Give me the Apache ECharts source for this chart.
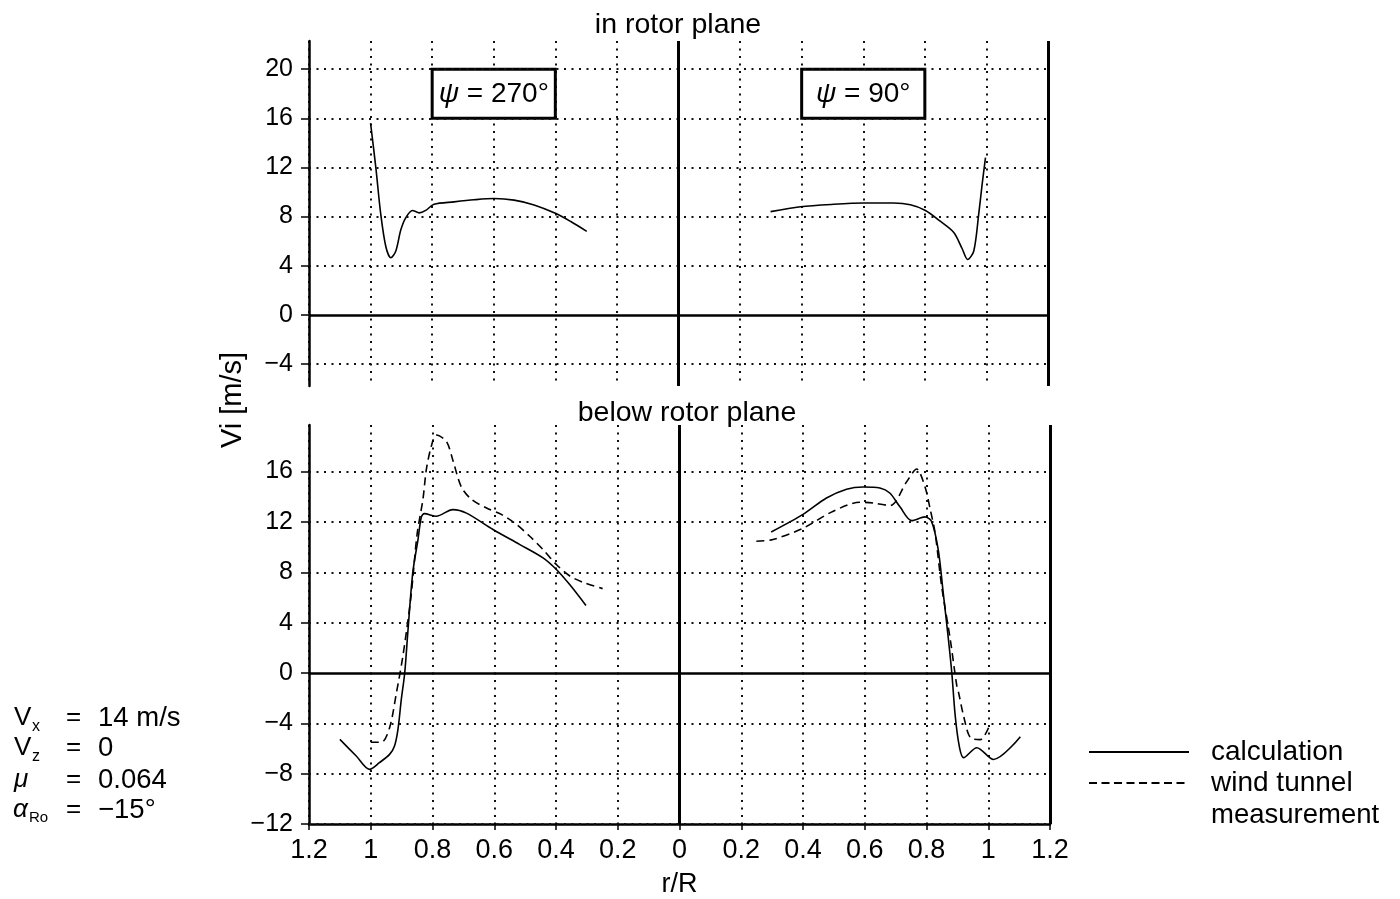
<!DOCTYPE html>
<html><head><meta charset="utf-8">
<script src="https://cdn.jsdelivr.net/npm/echarts@6/dist/echarts.min.js"></script>
<style>html,body{margin:0;padding:0;background:#fff}#c{width:1400px;height:899px}</style>
</head><body><div id="c"></div>
<script>
// ---- tick labels ----
const topYTicks = [-4, 0, 4, 8, 12, 16, 20];
const bottomYTicks = [-12, -8, -4, 0, 4, 8, 12, 16];
const boxLabels = ['270', '90'];

// ---- in rotor plane, psi = 270 deg (left half), calculation ----
const rTop270 = [1.0, 0.983, 0.967, 0.95, 0.934, 0.918, 0.902, 0.886, 0.864, 0.842, 0.821, 0.794, 0.729, 0.664, 0.599, 0.534, 0.469, 0.398, 0.35, 0.298];
const vTop270 = [15.6, 12.0, 8.2, 5.5, 4.65, 5.2, 6.9, 7.9, 8.5, 8.3, 8.5, 9.0, 9.2, 9.37, 9.47, 9.34, 8.95, 8.25, 7.6, 6.8];

// ---- in rotor plane, psi = 90 deg (right half), calculation ----
const rTop90 = [0.299, 0.396, 0.504, 0.602, 0.699, 0.753, 0.802, 0.851, 0.894, 0.921, 0.939, 0.959, 0.975, 0.986, 0.997];
const vTop90 = [8.4, 8.8, 9.0, 9.1, 9.1, 8.96, 8.5, 7.6, 6.7, 5.4, 4.5, 5.2, 8.2, 10.6, 12.8];

// ---- below rotor plane, psi = 270 deg, calculation ----
const rBot270Calc = [1.10, 1.047, 1.004, 0.972, 0.939, 0.923, 0.912, 0.901, 0.89, 0.88, 0.864, 0.847, 0.836, 0.826, 0.788, 0.734, 0.69, 0.604, 0.517, 0.442, 0.398, 0.355, 0.303];
const vBot270Calc = [-5.28, -6.6, -7.66, -7.13, -6.47, -5.8, -4.5, -2.1, 0, 3.2, 7.95, 10.6, 12.4, 12.66, 12.45, 12.98, 12.7, 11.4, 10.2, 9.14, 8.2, 7.0, 5.36];

// ---- below rotor plane, psi = 270 deg, wind tunnel measurement ----
const rBot270Meas = [1.0, 0.965, 0.939, 0.917, 0.896, 0.87, 0.85, 0.831, 0.82, 0.804, 0.788, 0.755, 0.734, 0.707, 0.674, 0.625, 0.577, 0.528, 0.485, 0.442, 0.398, 0.355, 0.312, 0.249];
const vBot270Meas = [-5.5, -5.5, -4.35, -1.6, 1.33, 6.0, 11.0, 13.8, 16.15, 18.0, 18.9, 18.4, 16.9, 14.8, 13.8, 13.1, 12.6, 11.8, 10.86, 9.8, 8.6, 7.7, 7.2, 6.7];

// ---- below rotor plane, psi = 90 deg, calculation ----
const rBot90Calc = [0.297, 0.4, 0.476, 0.541, 0.595, 0.649, 0.681, 0.714, 0.752, 0.795, 0.816, 0.838, 0.854, 0.871, 0.882, 0.893, 0.906, 0.92, 0.963, 1.017, 1.104];
const vBot90Calc = [11.2, 12.6, 13.9, 14.6, 14.78, 14.7, 14.3, 13.2, 12.1, 12.4, 12.05, 9.8, 6.4, 2.66, 0, -3.4, -5.8, -6.73, -5.94, -6.87, -5.06];

// ---- below rotor plane, psi = 90 deg, wind tunnel measurement ----
const rBot90Meas = [0.249, 0.303, 0.4, 0.498, 0.584, 0.628, 0.682, 0.736, 0.768, 0.795, 0.812, 0.828, 0.849, 0.877, 0.898, 0.904, 0.92, 0.942, 0.974, 1.001];
const vBot90Meas = [10.46, 10.6, 11.5, 12.85, 13.56, 13.5, 13.3, 15.2, 16.2, 14.8, 13.0, 11.1, 6.9, 2.66, -1.0, -1.57, -3.4, -5.14, -5.3, -4.35];

const FONT = '"Liberation Sans", Arial, Helvetica, sans-serif';
const pairs = (r, v, sign) => r.map((ri, i) => [sign * ri, v[i]]);
const dotted = { type: [2, 5.5], color: '#111', width: 2 };
const solidLine = (w) => ({ type: 'solid', color: '#000', width: w });

function gridLines(ticks) {
  const d = ticks.filter(v => v !== 0).map(v => ({ yAxis: v, lineStyle: dotted }));
  d.push({ yAxis: 0, lineStyle: solidLine(2.5) });
  d.push({ xAxis: 0, lineStyle: solidLine(3) });
  d.push({ xAxis: 1.2, lineStyle: solidLine(3) });
  return { silent: true, symbol: ['none', 'none'], label: { show: false }, emphasis: { disabled: true }, animation: false, data: d };
}

const xLabelFmt = v => String(Math.abs(Math.round(v * 10) / 10));
const yLabelFmt = v => (v < 0 ? '\u2212' + Math.abs(v) : String(v));

function xAx(idx, showAxis) {
  return {
    gridIndex: idx, type: 'value', min: -1.2, max: 1.2, interval: 0.2,
    axisLine: { show: showAxis, onZero: false, lineStyle: { color: '#000', width: 2.5 } },
    axisTick: { show: showAxis, length: 6, lineStyle: { color: '#000', width: 1.5 } },
    axisLabel: { show: showAxis, formatter: xLabelFmt, fontSize: 27, margin: 13, color: '#000', fontFamily: FONT },
    splitLine: { show: true, lineStyle: dotted },
    name: showAxis ? 'r/R' : '', nameLocation: 'middle', nameGap: 47,
    nameTextStyle: { fontSize: 27, color: '#000', fontFamily: FONT }
  };
}
function yAx(idx, min, max, ticks) {
  return {
    gridIndex: idx, type: 'value', min: min, max: max,
    axisLine: { show: true, onZero: false, lineStyle: { color: '#000', width: 2.5 } },
    axisTick: { show: true, length: 8, customValues: ticks, lineStyle: { color: '#000', width: 1.5 } },
    axisLabel: { customValues: ticks, formatter: yLabelFmt, fontSize: 25, margin: 16, color: '#000', fontFamily: FONT },
    splitLine: { show: false }
  };
}

const lineBase = { type: 'line', showSymbol: false, symbol: 'none', smooth: 0.3, z: 3, animation: false };
const calcStyle = { color: '#000', width: 1.6, type: 'solid' };
const measStyle = { color: '#000', width: 1.6, type: [8, 5] };

const option = {
  animation: false,
  backgroundColor: '#fff',
  textStyle: { fontFamily: FONT, color: '#000' },
  title: [
    { text: 'in rotor plane', left: 673, top: 6, textAlign: 'center', textStyle: { fontSize: 28.5, fontWeight: 'normal', color: '#000', fontFamily: FONT } },
    { text: 'below rotor plane', left: 682, top: 394, textAlign: 'center', textStyle: { fontSize: 28.5, fontWeight: 'normal', color: '#000', fontFamily: FONT } }
  ],
  grid: [
    { left: 309, width: 739, top: 41, height: 345 },
    { left: 309, width: 741, top: 425, height: 399 }
  ],
  xAxis: [xAx(0, false), xAx(1, true)],
  yAxis: [yAx(0, -5.8, 22.3, topYTicks), yAx(1, -12, 19.7, bottomYTicks)],
  series: [
    Object.assign({}, lineBase, {
      name: 'calculation', xAxisIndex: 0, yAxisIndex: 0,
      data: pairs(rTop270, vTop270, -1), lineStyle: calcStyle,
      markLine: gridLines(topYTicks),
      markArea: {
        silent: true, animation: false,
        itemStyle: { color: '#fff', borderColor: '#000', borderWidth: 3 },
        label: {
          show: true, position: 'inside', color: '#000', fontSize: 28, fontFamily: FONT,
          formatter: p => '{i|ψ} = ' + p.name + '°',
          rich: { i: { fontStyle: 'italic', fontSize: 28, fontFamily: FONT, color: '#000' } }
        },
        data: [
          [{ name: boxLabels[0], coord: [-0.8, 20] }, { coord: [-0.4, 16] }],
          [{ name: boxLabels[1], coord: [0.4, 20] }, { coord: [0.8, 16] }]
        ]
      }
    }),
    Object.assign({}, lineBase, { name: 'calculation', xAxisIndex: 0, yAxisIndex: 0, data: pairs(rTop90, vTop90, 1), lineStyle: calcStyle }),
    Object.assign({}, lineBase, {
      name: 'calculation', xAxisIndex: 1, yAxisIndex: 1, data: pairs(rBot270Calc, vBot270Calc, -1), lineStyle: calcStyle,
      markLine: gridLines(bottomYTicks)
    }),
    Object.assign({}, lineBase, { name: 'wind tunnel measurement', xAxisIndex: 1, yAxisIndex: 1, data: pairs(rBot270Meas, vBot270Meas, -1), lineStyle: measStyle }),
    Object.assign({}, lineBase, { name: 'calculation', xAxisIndex: 1, yAxisIndex: 1, data: pairs(rBot90Calc, vBot90Calc, 1), lineStyle: calcStyle }),
    Object.assign({}, lineBase, { name: 'wind tunnel measurement', xAxisIndex: 1, yAxisIndex: 1, data: pairs(rBot90Meas, vBot90Meas, 1), lineStyle: measStyle })
  ],
  graphic: [
    // y-axis title
    { type: 'text', x: 233, y: 400, rotation: Math.PI / 2, style: { text: 'Vi [m/s]', fontSize: 29, fontFamily: FONT, fill: '#000', align: 'center', verticalAlign: 'middle' } },
    // legend
    { type: 'line', shape: { x1: 1089, y1: 752, x2: 1189, y2: 752 }, style: { stroke: '#000', lineWidth: 2 } },
    { type: 'line', shape: { x1: 1089, y1: 783, x2: 1189, y2: 783 }, style: { stroke: '#000', lineWidth: 2, lineDash: [8, 4.5] } },
    { type: 'text', x: 1211, y: 752, style: { text: 'calculation', fontSize: 28, fontFamily: FONT, fill: '#000', verticalAlign: 'middle' } },
    { type: 'text', x: 1211, y: 783, style: { text: 'wind tunnel', fontSize: 28, fontFamily: FONT, fill: '#000', verticalAlign: 'middle' } },
    { type: 'text', x: 1211, y: 815, style: { text: 'measurement', fontSize: 27.5, fontFamily: FONT, fill: '#000', verticalAlign: 'middle' } },
    // flight condition annotation
    { type: 'text', x: 14, y: 718, style: { text: 'V', fontSize: 26, fontFamily: FONT, fill: '#000', verticalAlign: 'middle' } },
    { type: 'text', x: 32, y: 727, style: { text: 'x', fontSize: 16, fontFamily: FONT, fill: '#000', verticalAlign: 'middle' } },
    { type: 'text', x: 66, y: 718, style: { text: '=', fontSize: 26, fontFamily: FONT, fill: '#000', verticalAlign: 'middle' } },
    { type: 'text', x: 98, y: 718, style: { text: '14 m/s', fontSize: 27.5, fontFamily: FONT, fill: '#000', verticalAlign: 'middle' } },
    { type: 'text', x: 14, y: 748, style: { text: 'V', fontSize: 26, fontFamily: FONT, fill: '#000', verticalAlign: 'middle' } },
    { type: 'text', x: 32, y: 757, style: { text: 'z', fontSize: 16, fontFamily: FONT, fill: '#000', verticalAlign: 'middle' } },
    { type: 'text', x: 66, y: 748, style: { text: '=', fontSize: 26, fontFamily: FONT, fill: '#000', verticalAlign: 'middle' } },
    { type: 'text', x: 98, y: 748, style: { text: '0', fontSize: 27.5, fontFamily: FONT, fill: '#000', verticalAlign: 'middle' } },
    { type: 'text', x: 14, y: 780, style: { text: 'μ', fontSize: 26, fontStyle: 'italic', fontFamily: FONT, fill: '#000', verticalAlign: 'middle' } },
    { type: 'text', x: 66, y: 780, style: { text: '=', fontSize: 26, fontFamily: FONT, fill: '#000', verticalAlign: 'middle' } },
    { type: 'text', x: 98, y: 780, style: { text: '0.064', fontSize: 27.5, fontFamily: FONT, fill: '#000', verticalAlign: 'middle' } },
    { type: 'text', x: 13, y: 810, style: { text: 'α', fontSize: 26, fontStyle: 'italic', fontFamily: FONT, fill: '#000', verticalAlign: 'middle' } },
    { type: 'text', x: 29, y: 818, style: { text: 'Ro', fontSize: 15, fontFamily: FONT, fill: '#000', verticalAlign: 'middle' } },
    { type: 'text', x: 66, y: 810, style: { text: '=', fontSize: 26, fontFamily: FONT, fill: '#000', verticalAlign: 'middle' } },
    { type: 'text', x: 98, y: 810, style: { text: '\u221215°', fontSize: 27.5, fontFamily: FONT, fill: '#000', verticalAlign: 'middle' } }
  ]
};

const chart = echarts.init(document.getElementById('c'), null, { renderer: 'canvas' });
chart.setOption(option);
</script>
</body></html>
